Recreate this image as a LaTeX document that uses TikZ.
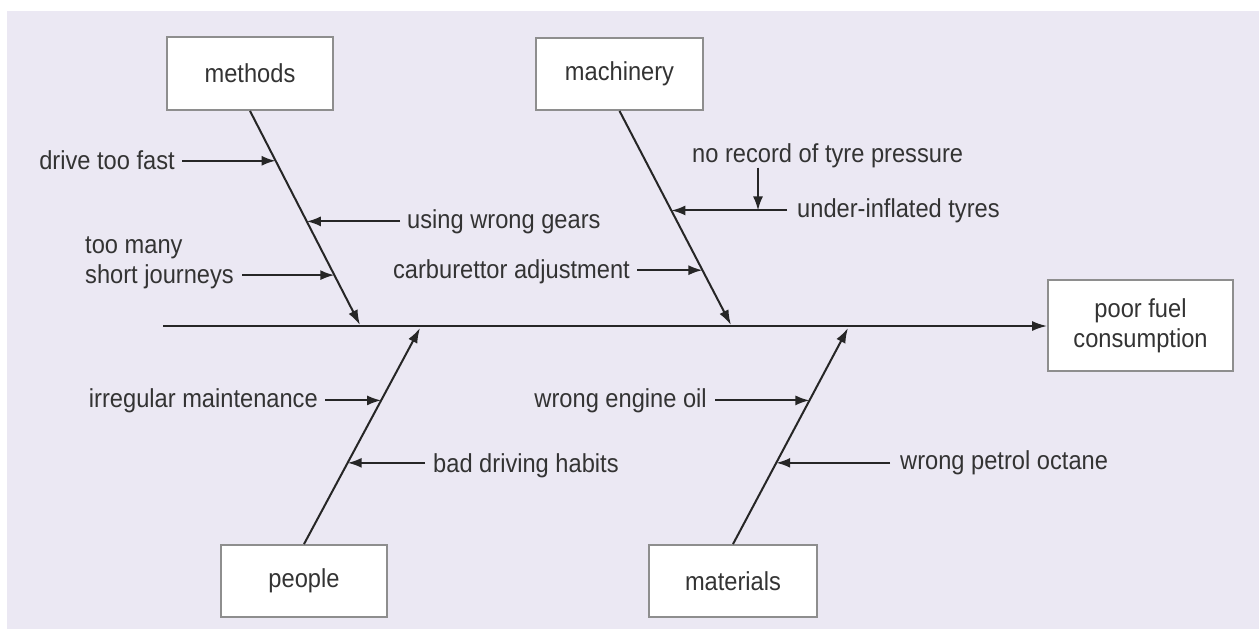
\documentclass[tikz,border=0pt]{standalone}
\usepackage{fontspec}
\setmainfont{Liberation Sans}[FakeStretch=0.91]
\usetikzlibrary{arrows.meta,calc}
\definecolor{bgc}{HTML}{EBE8F3}
\definecolor{txt}{HTML}{333333}
\definecolor{ink}{HTML}{262626}
\definecolor{boxc}{HTML}{8E8E8E}
\begin{document}
\begin{tikzpicture}[x=1pt,y=-1pt,
  every node/.style={font=\fontsize{26}{30}\selectfont, text=txt},
  catbox/.style={draw=boxc, line width=1.8pt, fill=white, inner sep=0pt, align=center},
  lbl/.style={inner sep=0pt},
  bone/.style={draw=ink, line width=2pt, -{Latex[length=15pt,width=10pt]}},
  arr/.style={draw=ink, line width=2pt, -{Latex[length=14pt,width=10pt]}}]
\useasboundingbox (0,0) rectangle (1259,630);
\fill[white] (0,0) rectangle (1259,630);
\fill[bgc] (7,11) rectangle (1259,629);

% category boxes
\node[catbox, minimum width=166pt, minimum height=73pt] (methods) at (250,73.5) {methods};
\node[catbox, minimum width=167pt, minimum height=72pt] (machinery) at (619.5,74) {machinery};
\node[catbox, minimum width=185pt, minimum height=91pt] (effect) at (1140.5,325.5) {poor fuel\\consumption};
\node[catbox, minimum width=166pt, minimum height=72pt] (people) at (304,581) {people};
\node[catbox, minimum width=168pt, minimum height=72pt] (materials) at (733,581) {materials};

% spine
\coordinate (tail) at (163,326);
\draw[bone] (tail) -- (effect.west |- tail);

% bone tips on the spine
\coordinate (sM) at (360,325);
\coordinate (sC) at (731,325);
\coordinate (sP) at (420,328);
\coordinate (sT) at (848,328);

\draw[bone] (methods.south) -- (sM);
\draw[bone] (machinery.south) -- (sC);
\draw[bone] (people.north) -- (sP);
\draw[bone] (materials.north) -- (sT);

% points on bones
\coordinate (p1) at ($(methods.south)!0.233!(sM)$);
\coordinate (p2) at ($(methods.south)!0.516!(sM)$);
\coordinate (p3) at ($(methods.south)!0.767!(sM)$);
\coordinate (c1) at ($(machinery.south)!0.465!(sC)$);
\coordinate (c2) at ($(machinery.south)!0.744!(sC)$);
\coordinate (e1) at ($(people.north)!0.665!(sP)$);
\coordinate (e2) at ($(people.north)!0.376!(sP)$);
\coordinate (m1) at ($(materials.north)!0.665!(sT)$);
\coordinate (m2) at ($(materials.north)!0.376!(sT)$);

% labels
\node[lbl, anchor=base east] (l1) at (175,169) {drive too fast};
\node[lbl, anchor=base west] (l2) at (407,228) {using wrong gears};
\node[lbl, anchor=base west, align=left] (l3) at (85,283) {too many\\short journeys};
\node[lbl, anchor=base east] (l4) at (630,278) {carburettor adjustment};
\node[lbl, anchor=base west] (l5) at (692,162) {no record of tyre pressure};
\node[lbl, anchor=base west] (l6) at (797,217) {under-inflated tyres};
\node[lbl, anchor=base east] (l7) at (318,407) {irregular maintenance};
\node[lbl, anchor=base west] (l8) at (433,472) {bad driving habits};
\node[lbl, anchor=base east] (l9) at (707,407) {wrong engine oil};
\node[lbl, anchor=base west] (l10) at (900,469) {wrong petrol octane};

% cause arrows
\draw[arr] ($(l1.east |- p1)+(7,0)$) -- (p1);
\draw[arr] ($(l2.west |- p2)+(-7,0)$) -- (p2);
\draw[arr] ($(l3.east |- p3)+(8,0)$) -- (p3);
\draw[arr] ($(l4.east |- c2)+(7,0)$) -- (c2);
\draw[arr] ($(l6.west |- c1)+(-10,0)$) -- (c1);
\coordinate (u1) at (758,0);
\draw[arr] (l5.south -| u1) -- (u1 |- c1);
\draw[arr] ($(l7.east |- e1)+(7,0)$) -- (e1);
\draw[arr] ($(l8.west |- e2)+(-8,0)$) -- (e2);
\draw[arr] ($(l9.east |- m1)+(8,0)$) -- (m1);
\draw[arr] ($(l10.west |- m2)+(-10,0)$) -- (m2);
\end{tikzpicture}
\end{document}
